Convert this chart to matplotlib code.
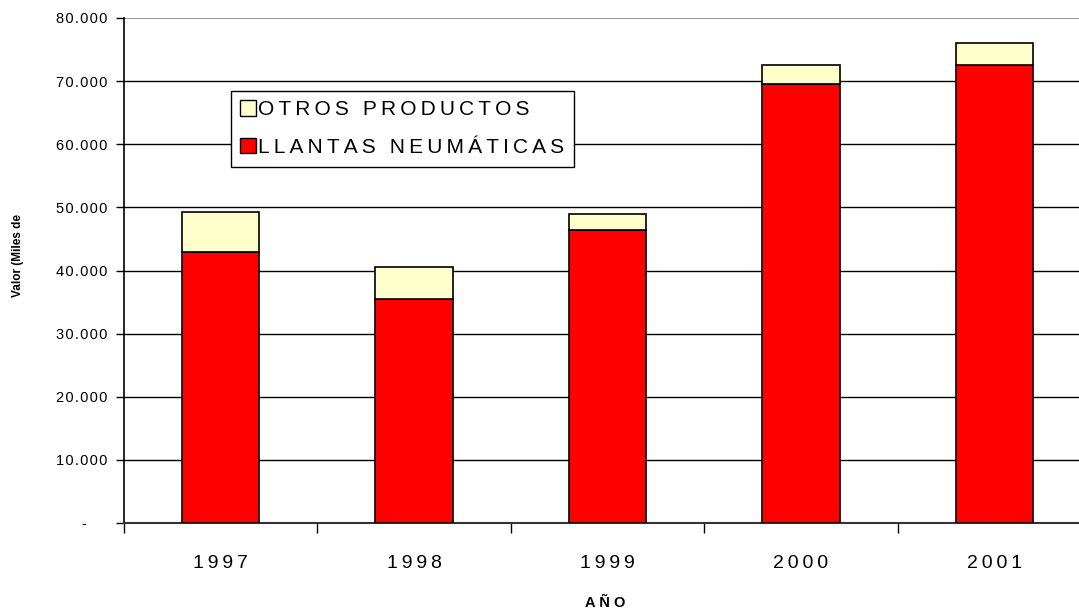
import matplotlib
matplotlib.use("Agg")
import matplotlib.pyplot as plt
from matplotlib.patches import Patch
from matplotlib.ticker import FuncFormatter, FixedLocator
import numpy as np

plt.rcParams['font.family'] = ['Liberation Sans', 'DejaVu Sans']

years = ["1997", "1998", "1999", "2000", "2001"]
llantas = [42900, 35500, 46350, 69600, 72500]
otros = [6400, 5100, 2650, 3000, 3500]
yticks = [0, 10000, 20000, 30000, 40000, 50000, 60000, 70000, 80000]
labels = ["OTROS PRODUCTOS", "LLANTAS NEUMÁTICAS"]


def spaced(s, sep="\u2009"):
    return sep.join(s)


W, H = 1079, 612
fig = plt.figure(figsize=(W / 100, H / 100), dpi=100)
left, right, top, bottom = 124, 1091, 18, 523
ax = fig.add_axes([left / W, 1 - bottom / H, (right - left) / W, (bottom - top) / H])

x = np.arange(len(years))
bw = 0.40
red = "#FF0000"
cream = "#FFFFCC"
ax.bar(x, llantas, bw, color=red, edgecolor="black", linewidth=1.2, zorder=3)
ax.bar(x, otros, bw, bottom=llantas, color=cream, edgecolor="black", linewidth=1.2, zorder=3)

ax.set_xlim(-0.5, len(years) - 0.5)
ax.set_ylim(0, 80000)

ax.yaxis.set_major_locator(FixedLocator(yticks))


def fmt(v, pos):
    if v == 0:
        return "-" + " " * 5
    return spaced(f"{int(v):,}".replace(",", "."), "\u200a")


ax.yaxis.set_major_formatter(FuncFormatter(fmt))
for yv in yticks[1:-1]:
    ax.axhline(yv, color="black", linewidth=1.0, zorder=1)
ax.axhline(80000, color="#999999", linewidth=1.5, zorder=1)

ax.set_xticks(x)
ax.set_xticklabels([spaced(y) for y in years])
ax.set_xticks(np.arange(-0.5, len(years), 1.0), minor=True)
ax.tick_params(axis="x", which="major", length=0, pad=23, labelsize=14)
ax.tick_params(axis="x", which="minor", length=7, width=1, direction="out")
ax.tick_params(axis="y", length=6, width=1, direction="out", labelsize=10.5, pad=6)

ax.spines["top"].set_visible(False)
ax.spines["right"].set_visible(False)
ax.spines["left"].set_linewidth(1.2)
ax.spines["bottom"].set_linewidth(1.5)
ax.spines["bottom"].set_color("#333333")

fig.text(605 / W, 1 - 603 / H, "A Ñ O", ha="center", va="center", fontsize=10.5, fontweight="bold")
fig.text(18 / W, 1 - 255 / H, "Valor (Miles de", rotation=90, ha="center", va="center",
         fontsize=8.5, fontweight="bold")

handles = [Patch(facecolor=cream, edgecolor="black", linewidth=1),
           Patch(facecolor=red, edgecolor="black", linewidth=1)]
leg = fig.legend(handles, [spaced(l) for l in labels],
                 loc="upper left", bbox_to_anchor=(231 / W, 1 - 91 / H),
                 fontsize=15, frameon=True, fancybox=False, framealpha=1,
                 edgecolor="black", handlelength=0.75, handleheight=0.75,
                 handletextpad=0.1, borderpad=0.45, labelspacing=0.9,
                 borderaxespad=0)
leg.get_frame().set_linewidth(1.0)

fig.savefig("out.png", dpi=100)
